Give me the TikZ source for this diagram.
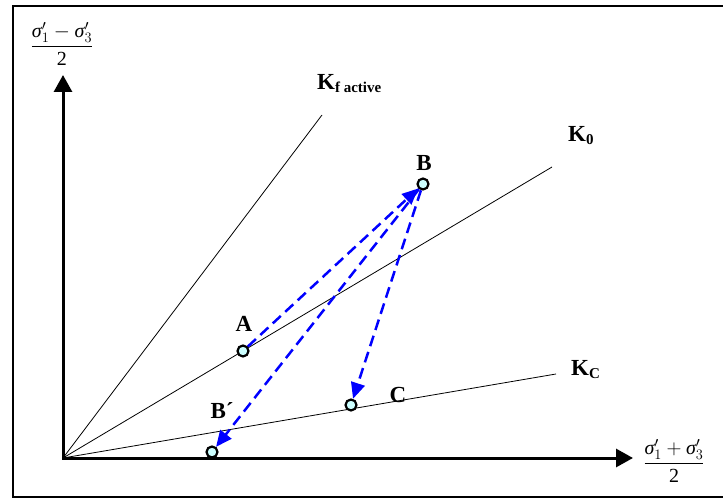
\documentclass[tikz,border=0pt]{standalone}
\usepackage{fontspec}
\setmainfont{Liberation Serif}
\usetikzlibrary{arrows.meta}
\definecolor{ptfill}{RGB}{204,255,255}
\newcommand{\sgm}{\mbox{\itshape σ}}
\begin{document}
\begin{tikzpicture}[x=1pt,y=-1pt,
  ptnode/.style={circle,draw=black,line width=2.2pt,fill=ptfill,minimum size=11pt,inner sep=0pt},
  lbl/.style={font=\fontsize{23}{26}\selectfont\bfseries,inner sep=0pt},
  ray/.style={line width=0.8pt},
  axisline/.style={line width=3pt,{Triangle[width=18pt,length=17pt]}-{Triangle[width=18pt,length=17pt]}},
  move/.style={blue,line width=2.5pt,dash pattern=on 11pt off 6pt,-{Triangle[width=14pt,length=16pt]}},
  axlbl/.style={font=\fontsize{20}{22}\selectfont,inner sep=0pt},
]
\useasboundingbox (0,0) rectangle (723,500);
% frame
\draw[line width=2pt] (726,6) -- (13,6) -- (13,497) -- (726,497);
% origin and rays
\coordinate (O) at (63,458);
\coordinate (kf) at (322,115);
\coordinate (k0) at (552,167);
\coordinate (kc) at (556,374);
\draw[ray] (O) -- (kf);
\draw[ray] (O) -- (k0);
\draw[ray] (O) -- (kc);
% axes
\coordinate (ytip) at (63,75);
\coordinate (xtip) at (633,458);
\draw[axisline] (ytip) -- (O) -- (xtip);
% axis labels
\node[axlbl] (ylab) at (62,44) {$\displaystyle\frac{\sgm'_1-\sgm'_3}{\mbox{2}}$};
\node[axlbl] (xlab) at (674,461) {$\displaystyle\frac{\sgm'_1+\sgm'_3}{\mbox{2}}$};
% line labels
\node[lbl,anchor=base west] (lKf) at (317,90) {K\raisebox{-3pt}{\fontsize{15}{17}\selectfont f active}};
\node[lbl,anchor=base west] (lK0) at (568,142) {K\raisebox{-3pt}{\fontsize{15}{17}\selectfont 0}};
\node[lbl,anchor=base west] (lKc) at (571,375) {K\raisebox{-3pt}{\fontsize{15}{17}\selectfont C}};
% points
\node[ptnode] (A) at (243,351) {};
\node[ptnode] (B) at (423,184) {};
\node[ptnode] (Bp) at (212,452) {};
\node[ptnode] (C) at (351,405) {};
% point labels
\node[lbl] (lA) at (244,324) {A};
\node[lbl] (lB) at (424,163) {B};
\node[lbl] (lBp) at (222,411) {B´};
\node[lbl] (lC) at (398,395) {C};
% moves
\draw[move] (A) -- (B);
\draw[move] (B) -- (Bp);
\draw[move] (B) -- (C);
\end{tikzpicture}
\end{document}
